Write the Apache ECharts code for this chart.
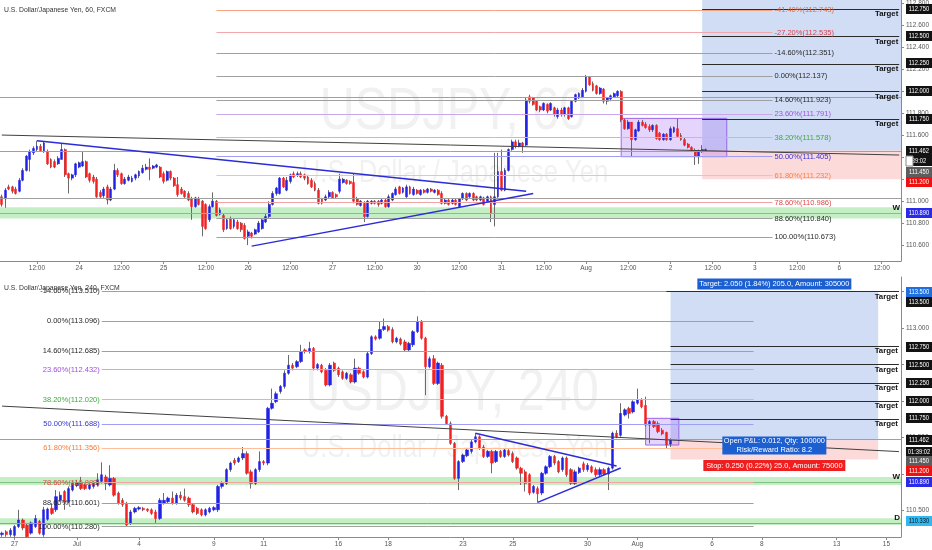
<!DOCTYPE html>
<html>
<head>
<meta charset="utf-8">
<script src="https://cdn.jsdelivr.net/npm/echarts/dist/echarts.min.js"></script>
<style>html,body{margin:0;padding:0;background:#fff}#main{width:932px;height:550px}</style>
</head>
<body>
<div id="main"></div>
<script>
// x axis labels (category index -> text)
const topTickPos = [10,22,34,46,58,70,82,94,106,118,130,142,154,166,178,190,202,214,226,238,250];
const topTickText = ['12:00','24','12:00','25','12:00','26','12:00','27','12:00','30','12:00','31','12:00','Aug','12:00','2','12:00','3','12:00','6','12:00'];
const bottomTickPos = [3,18,33,51,63,81,93,111,123,141,153,171,183,201,213];
const bottomTickText = ['27','Jul','4','9','11','16','18','23','25','30','Aug','6','8','13','15'];

// price ticks on the right axis
const topPriceTicks = [110.6,110.8,111.0,111.2,111.4,111.6,111.8,112.0,112.2,112.4,112.6,112.8];
const bottomPriceTicks = [110.5,111.0,111.5,112.0,112.5,113.0,113.5];

// hourly bars [open, close, low, high]
const topBars = [
[111.04,110.97,110.95,111.06],[111.02,111.10,110.94,111.12],[111.13,111.11,111.10,111.15],[111.13,111.09,111.07,111.14],
[111.11,111.07,111.06,111.13],[111.09,111.19,111.08,111.21],[111.19,111.28,111.18,111.30],[111.28,111.41,111.27,111.42],
[111.38,111.45,111.27,111.47],[111.44,111.48,111.42,111.50],[111.47,111.50,111.45,111.55],[111.50,111.46,111.45,111.52],
[111.45,111.53,111.44,111.54],[111.45,111.34,111.33,111.47],[111.38,111.31,111.30,111.39],[111.36,111.31,111.30,111.38],
[111.34,111.39,111.33,111.41],[111.38,111.47,111.38,111.53],[111.47,111.24,111.22,111.48],[111.25,111.21,111.07,111.26],
[111.21,111.24,111.19,111.25],[111.24,111.34,111.22,111.35],[111.31,111.35,111.30,111.36],[111.32,111.36,111.31,111.45],
[111.36,111.22,111.21,111.37],[111.25,111.19,111.17,111.26],[111.22,111.18,111.16,111.24],[111.20,111.04,111.03,111.22],
[111.08,111.04,111.03,111.10],[111.05,111.11,111.03,111.13],[111.13,111.01,110.97,111.15],[111.01,111.11,111.00,111.13],
[111.11,111.28,111.10,111.34],[111.28,111.24,111.22,111.30],[111.25,111.16,111.15,111.26],[111.16,111.20,111.15,111.22],
[111.19,111.22,111.18,111.24],[111.18,111.21,111.17,111.23],[111.21,111.24,111.19,111.25],[111.23,111.27,111.21,111.28],
[111.26,111.30,111.25,111.33],[111.29,111.31,111.28,111.34],[111.31,111.29,111.19,111.39],[111.30,111.32,111.29,111.33],
[111.31,111.33,111.30,111.34],[111.31,111.22,111.21,111.32],[111.25,111.18,111.16,111.27],[111.19,111.27,111.18,111.28],
[111.27,111.21,111.19,111.28],[111.21,111.14,111.13,111.22],[111.15,111.06,111.04,111.22],[111.11,111.07,111.06,111.13],
[111.09,111.04,111.03,111.10],[111.07,111.01,111.00,111.09],[111.02,110.95,110.83,111.04],[110.95,111.03,110.94,111.04],
[111.02,110.97,110.96,111.04],[111.00,110.77,110.68,111.01],[110.97,110.75,110.74,110.98],[110.83,110.95,110.81,110.97],
[110.95,111.00,110.94,111.08],[111.00,110.87,110.86,111.01],[110.88,110.92,110.87,110.94],[110.87,110.74,110.72,110.89],
[110.75,110.83,110.74,110.84],[110.84,110.75,110.74,110.86],[110.77,110.83,110.75,110.84],[110.81,110.75,110.74,110.83],
[110.80,110.74,110.72,110.81],[110.78,110.66,110.65,110.80],[110.68,110.72,110.60,110.74],[110.71,110.68,110.66,110.72],
[110.70,110.74,110.69,110.75],[110.72,110.80,110.71,110.82],[110.75,110.83,110.74,110.84],[110.81,110.86,110.80,110.89],
[110.86,110.97,110.84,111.00],[110.97,111.07,110.96,111.09],[111.07,111.12,111.05,111.13],[111.07,111.21,111.06,111.22],
[111.21,111.13,111.12,111.22],[111.10,111.19,111.09,111.22],[111.18,111.24,111.16,111.25],[111.25,111.22,111.21,111.27],
[111.24,111.25,111.22,111.27],[111.25,111.22,111.21,111.27],[111.24,111.21,111.19,111.25],[111.22,111.16,111.15,111.24],
[111.19,111.13,111.12,111.21],[111.16,111.10,111.09,111.18],[111.10,110.98,110.97,111.12],[111.02,110.98,110.97,111.03],
[111.01,111.04,111.00,111.06],[111.04,111.08,111.02,111.10],[111.08,111.03,111.02,111.09],[111.06,111.04,111.02,111.07],
[111.09,111.20,111.07,111.25],[111.17,111.20,111.16,111.21],[111.19,111.16,111.15,111.20],[111.18,111.16,111.15,111.19],
[111.17,111.00,110.98,111.25],[111.02,110.97,110.96,111.04],[110.96,111.00,110.95,111.01],[110.98,110.86,110.81,111.00],
[110.86,111.00,110.85,111.01],[110.98,111.00,110.97,111.01],[111.00,110.98,110.97,111.01],[111.00,110.97,110.95,111.01],
[110.98,111.01,110.97,111.02],[111.01,110.95,110.94,111.02],[110.95,111.04,110.94,111.06],[111.01,111.07,111.00,111.08],
[111.06,111.11,111.05,111.13],[111.13,111.07,111.06,111.14],[111.08,111.12,111.07,111.13],[111.04,111.13,111.03,111.15],
[111.13,111.07,111.06,111.14],[111.06,111.11,111.05,111.13],[111.10,111.07,111.06,111.11],[111.06,111.10,111.05,111.11],
[111.10,111.08,111.07,111.11],[111.08,111.11,111.07,111.12],[111.11,111.09,111.08,111.12],[111.08,111.10,111.07,111.11],
[111.10,111.06,111.05,111.11],[111.07,110.98,110.97,111.09],[110.98,111.01,110.97,111.02],[111.01,110.97,110.96,111.02],
[110.98,111.01,110.97,111.02],[111.01,110.97,110.96,111.02],[110.95,111.02,110.94,111.03],[111.02,111.07,111.01,111.08],
[111.07,111.01,111.00,111.08],[111.04,111.07,111.03,111.08],[111.07,111.01,111.00,111.08],[111.04,111.01,111.00,111.05],
[111.01,111.04,111.00,111.05],[111.03,110.97,110.96,111.04],[111.00,111.04,110.99,111.05],[111.04,110.89,110.81,111.05],
[110.97,111.04,110.77,111.44],[111.04,111.27,111.03,111.44],[111.27,111.10,111.09,111.47],[111.10,111.28,111.09,111.30],
[111.28,111.47,111.27,111.48],[111.47,111.54,111.46,111.56],[111.54,111.50,111.48,111.56],[111.50,111.53,111.49,111.56],
[111.53,111.50,111.44,111.54],[111.51,111.92,111.50,111.94],[111.95,111.91,111.89,111.97],[111.94,111.88,111.87,111.95],
[111.91,111.83,111.82,111.92],[111.86,111.83,111.81,111.87],[111.83,111.89,111.82,111.90],[111.88,111.82,111.80,111.89],
[111.83,111.89,111.82,111.90],[111.85,111.79,111.77,111.86],[111.77,111.83,111.75,111.85],[111.83,111.79,111.77,111.85],
[111.79,111.85,111.77,111.86],[111.85,111.75,111.74,111.86],[111.77,111.91,111.76,111.92],[111.91,111.97,111.90,111.98],
[111.94,111.98,111.93,111.99],[111.95,112.01,111.94,112.03],[112.00,112.13,111.99,112.15],[112.13,112.06,112.05,112.14],
[112.07,112.01,112.00,112.09],[112.05,111.98,111.97,112.06],[111.98,112.03,111.97,112.04],[112.02,111.91,111.89,112.03],
[111.91,111.94,111.88,111.95],[111.93,111.96,111.91,111.97],[111.95,111.98,111.94,111.99],[111.96,112.00,111.94,112.01],
[112.00,111.74,111.72,112.01],[111.74,111.66,111.65,111.75],[111.66,111.72,111.65,111.74],[111.72,111.56,111.41,111.72],
[111.56,111.65,111.55,111.66],[111.64,111.72,111.63,111.74],[111.72,111.69,111.68,111.74],[111.70,111.67,111.66,111.72],
[111.68,111.65,111.63,111.70],[111.65,111.69,111.63,111.70],[111.69,111.57,111.56,111.70],[111.62,111.56,111.55,111.63],
[111.56,111.61,111.55,111.62],[111.61,111.56,111.55,111.62],[111.56,111.66,111.55,111.68],[111.63,111.67,111.62,111.68],
[111.66,111.59,111.58,111.75],[111.60,111.56,111.55,111.62],[111.56,111.51,111.50,111.58],[111.52,111.49,111.48,111.53],
[111.49,111.46,111.45,111.50],[111.46,111.41,111.33,111.48],[111.41,111.45,111.34,111.47],[111.45,111.47,111.44,111.51],
[111.46,111.47,111.45,111.48]
];

// 4-hour bars [open, close, low, high]
const bottomBars = [
[110.17,110.19,110.14,110.21],[110.21,110.17,110.14,110.23],[110.17,110.23,110.14,110.26],[110.16,110.28,110.13,110.30],
[110.28,110.37,110.26,110.51],[110.37,110.26,110.23,110.39],[110.30,110.14,110.13,110.33],[110.19,110.33,110.17,110.35],
[110.28,110.39,110.26,110.44],[110.35,110.19,110.17,110.37],[110.17,110.51,110.14,110.55],[110.38,110.52,110.36,110.54],
[110.53,110.46,110.44,110.60],[110.51,110.69,110.48,110.78],[110.64,110.71,110.62,110.76],[110.76,110.62,110.51,110.78],
[110.62,110.80,110.60,110.83],[110.78,110.87,110.76,110.90],[110.84,110.88,110.82,110.92],[110.87,110.80,110.78,110.96],
[110.85,110.80,110.78,110.87],[110.80,110.85,110.78,110.87],[110.83,110.87,110.80,110.90],[110.85,110.92,110.83,111.01],
[110.90,110.99,110.87,111.16],[110.96,110.87,110.78,110.99],[110.85,110.94,110.83,111.12],[110.94,110.71,110.69,110.96],
[110.74,110.60,110.58,110.76],[110.64,110.58,110.55,110.67],[110.60,110.30,110.28,110.62],[110.33,110.48,110.30,110.51],
[110.48,110.53,110.46,110.55],[110.52,110.54,110.50,110.56],[110.53,110.51,110.49,110.55],[110.52,110.50,110.48,110.53],
[110.51,110.46,110.44,110.53],[110.48,110.39,110.33,110.51],[110.39,110.64,110.37,110.67],[110.60,110.64,110.58,110.74],
[110.62,110.67,110.60,110.69],[110.67,110.60,110.58,110.76],[110.60,110.71,110.58,110.74],[110.71,110.67,110.64,110.76],
[110.69,110.64,110.62,110.80],[110.67,110.58,110.55,110.69],[110.58,110.48,110.46,110.60],[110.53,110.46,110.44,110.55],
[110.51,110.44,110.42,110.53],[110.44,110.51,110.42,110.53],[110.48,110.53,110.46,110.55],[110.51,110.54,110.49,110.56],
[110.51,110.83,110.48,110.85],[110.83,110.87,110.80,110.90],[110.87,111.06,110.85,111.08],[111.06,111.15,111.03,111.17],
[111.19,111.15,111.12,111.22],[111.17,111.22,111.15,111.24],[111.22,111.28,111.19,111.37],[111.28,111.01,110.99,111.31],
[111.03,110.87,110.80,111.06],[110.87,111.06,110.85,111.08],[111.06,111.17,111.03,111.31],[111.17,111.15,111.12,111.19],
[111.15,111.90,111.12,111.92],[111.90,111.97,111.88,112.17],[111.99,112.10,111.97,112.13],[112.13,112.20,112.10,112.22],
[112.20,112.38,112.17,112.42],[112.38,112.49,112.36,112.63],[112.49,112.45,112.42,112.52],[112.47,112.54,112.45,112.56],
[112.54,112.68,112.52,112.77],[112.70,112.68,112.65,112.72],[112.68,112.72,112.65,112.81],[112.72,112.45,112.42,112.74],
[112.45,112.50,112.42,112.52],[112.49,112.40,112.38,112.51],[112.42,112.22,112.20,112.45],[112.22,112.49,112.20,112.52],
[112.52,112.42,112.40,112.54],[112.45,112.36,112.33,112.47],[112.40,112.31,112.29,112.42],[112.31,112.38,112.29,112.40],
[112.36,112.26,112.24,112.38],[112.26,112.45,112.24,112.58],[112.45,112.38,112.36,112.47],[112.40,112.33,112.31,112.42],
[112.33,112.65,112.31,112.68],[112.65,112.88,112.63,112.90],[112.88,112.85,112.83,112.90],[112.86,112.98,112.84,113.09],
[112.98,113.02,112.96,113.13],[113.02,112.97,112.95,113.04],[112.98,112.81,112.79,113.01],[112.81,112.86,112.79,112.88],
[112.85,112.78,112.76,112.87],[112.81,112.70,112.68,112.84],[112.70,112.79,112.68,112.81],[112.77,112.95,112.74,112.97],
[112.95,113.09,112.93,113.16],[113.09,112.86,112.84,113.11],[112.86,112.47,112.08,112.88],[112.47,112.58,112.45,112.61],
[112.58,112.24,112.22,112.63],[112.24,112.52,112.22,112.54],[112.49,111.79,111.76,112.52],[111.79,111.69,111.67,111.81],
[111.69,111.42,111.40,111.72],[111.42,110.94,110.92,111.44],[110.94,111.17,110.78,111.19],[111.17,111.26,111.15,111.28],
[111.25,111.33,111.23,111.35],[111.31,111.44,111.28,111.47],[111.44,111.51,111.42,111.56],[111.51,111.35,111.33,111.53],
[111.37,111.24,111.22,111.40],[111.24,111.31,111.22,111.33],[111.31,111.15,111.01,111.33],[111.17,111.31,111.15,111.33],
[111.31,111.24,111.22,111.33],[111.24,111.33,111.22,111.35],[111.32,111.26,111.24,111.34],[111.28,111.17,111.15,111.31],
[111.22,111.08,111.06,111.24],[111.08,111.01,110.85,111.10],[111.03,110.87,110.76,111.06],[110.99,110.74,110.71,111.01],
[110.75,110.83,110.73,110.85],[110.80,110.73,110.61,110.83],[110.74,111.01,110.71,111.03],[111.01,111.10,110.99,111.12],
[111.10,111.24,111.08,111.26],[111.24,111.15,111.12,111.26],[111.17,111.03,111.01,111.19],[111.06,111.22,111.03,111.24],
[111.22,110.99,110.96,111.24],[111.06,110.87,110.85,111.08],[110.87,111.03,110.85,111.06],[111.02,111.08,111.00,111.10],
[111.14,111.06,111.03,111.17],[111.06,111.12,111.03,111.15],[111.10,111.03,111.01,111.12],[111.06,110.99,110.96,111.09],
[110.99,111.06,110.96,111.09],[111.06,111.00,110.98,111.08],[111.00,111.08,110.78,111.10],[111.08,111.56,111.06,111.58],
[111.56,111.51,111.49,111.60],[111.53,111.83,111.51,111.97],[111.81,111.88,111.79,111.90],[111.90,111.83,111.76,111.92],
[111.85,111.99,111.83,112.01],[111.97,112.02,111.95,112.17],[112.01,111.92,111.90,112.04],[111.94,111.67,111.65,112.06],
[111.67,111.72,111.42,111.74],[111.72,111.65,111.63,111.74],[111.69,111.58,111.56,111.72],[111.60,111.55,111.53,111.63],
[111.57,111.40,111.35,111.58],[111.41,111.47,111.37,111.49]
];

// fibonacci levels
const topFibLevels = ['-41.40%','-27.20%','-14.60%','0.00%','14.60%','23.60%','38.20%','50.00%','61.80%','78.60%','88.60%','100.00%'];
const topFibPrices = [112.743,112.535,112.351,112.137,111.923,111.791,111.578,111.405,111.232,110.986,110.840,110.673];
const bottomFibLevels = ['-14.60%','0.00%','14.60%','23.60%','38.20%','50.00%','61.80%','78.60%','88.60%','100.00%'];
const bottomFibPrices = [113.510,113.096,112.685,112.432,112.020,111.688,111.356,110.883,110.601,110.280];

// position tool and horizontal levels
const entryPrice = 111.462;
const stopPrice = 111.2;
const targetPrice = 113.5;
const topTargets = [112.75,112.5,112.25,112.0,111.75];
const bottomTargets = [113.5,112.75,112.5,112.25,112.0,111.75];
const topLevels = [111.95,111.455,111.03];
const bottomLevels = [111.475];
const weeklyLevel = 110.89;
const dailyLevel = 110.33;

// badges on the price scale [text, price, background, text colour]
const topBadges = [
  ['112.750',112.75,'#131313','#fff'],['112.500',112.504,'#131313','#fff'],['112.250',112.255,'#131313','#fff'],
  ['112.000',112.006,'#131313','#fff'],['111.750',111.751,'#131313','#fff'],['111.462',111.459,'#131313','#fff'],
  ['39:02',111.363,'#131313','#fff'],['111.450',111.268,'#5d5d5d','#fff'],['111.200',111.177,'#f01010','#fff'],
  ['110.890',110.895,'#2a2ae8','#fff']
];
const bottomBadges = [
  ['113.500',113.493,'#1f6fe0','#fff'],['113.500',113.352,'#131313','#fff'],['112.750',112.744,'#131313','#fff'],
  ['112.500',112.493,'#131313','#fff'],['112.250',112.251,'#131313','#fff'],['112.000',112.004,'#131313','#fff'],
  ['111.750',111.763,'#131313','#fff'],['111.462',111.466,'#131313','#fff'],['01:39:02',111.306,'#131313','#fff'],
  ['111.450',111.178,'#5d5d5d','#fff'],['111.200',111.037,'#f01010','#fff'],['110.890',110.890,'#2a2ae8','#fff'],
  ['110.330',110.360,'#2fb8f2','#111']
];

const chart = echarts.init(document.getElementById('main'));

const FONT = 'Liberation Sans';
const FIB_STYLE = {
  '-41.40%': ['#f6a380', '#ec6a36'],
  '-27.20%': ['#f3a6ac', '#d8434f'],
  '23.60%': ['#caa6ea', '#a050dc'],
  '38.20%': ['#9cd89c', '#3fa83f'],
  '50.00%': ['#9e9ef2', '#3535d0'],
  '61.80%': ['#ffbd98', '#ff7b33'],
  '78.60%': ['#f2a4a4', '#e04848']
};
const FIB_GRAY = ['#a0a0a0', '#2a2a2a'];

function makeCats(n, pos, text) {
  const cats = new Array(n).fill('');
  pos.forEach((p, k) => { cats[p] = text[k]; });
  return cats;
}
const topCats = makeCats(256, topTickPos, topTickText);
const bottomCats = makeCats(217, bottomTickPos, bottomTickText);

function fibLines(levels, prices, from, to, side) {
  return levels.map((lvl, k) => {
    const st = FIB_STYLE[lvl] || FIB_GRAY;
    const p = prices[k];
    return [{
      coord: [from, p],
      lineStyle: { color: st[0], width: 1, type: 'solid' },
      label: { show: true, position: side, formatter: lvl + '(' + p.toFixed(3) + ')', color: st[1],
        fontSize: 7.5, fontFamily: FONT, distance: 2, padding: [0, 0, 8, 0] }
    }, { coord: [to, p] }];
  });
}

function targetLines(levels, from, to) {
  return levels.map(v => [{
    coord: [from, v],
    lineStyle: { color: '#2b2b2b', width: 1, type: 'solid' },
    label: { show: true, position: 'insideEndBottom', formatter: 'Target', color: '#111',
      fontWeight: 'bold', fontSize: 7.8, fontFamily: FONT, distance: 1 }
  }, { coord: [to, v] }]);
}

function hLine(v, color, text) {
  const item = { yAxis: v, lineStyle: { color: color, width: 1, type: 'solid' }, label: { show: false } };
  if (text) {
    item.label = { show: true, position: 'insideEndTop', formatter: text, color: '#111',
      fontWeight: 'bold', fontSize: 8, fontFamily: FONT, distance: 1 };
  }
  return item;
}

function seg(a, b, color, width) {
  return [{ coord: a, lineStyle: { color: color, width: width, type: 'solid' } }, { coord: b }];
}

function overlay(idx, z, extra) {
  return Object.assign({ type: 'line', xAxisIndex: idx, yAxisIndex: idx, data: [], z: z, silent: true, symbol: 'none' }, extra);
}

function markLine(data) {
  return { silent: true, symbol: ['none', 'none'], animation: false, label: { show: false },
    lineStyle: { type: 'solid' }, emphasis: { disabled: true }, data: data };
}

function markArea(data) {
  return { silent: true, animation: false, label: { show: false }, emphasis: { disabled: true }, data: data };
}

function area(a, b, fill, border) {
  return [{ coord: a, itemStyle: { color: fill, borderColor: border || 'transparent', borderWidth: border ? 1 : 0 } }, { coord: b }];
}

function band(lo, hi, fill) {
  return [{ yAxis: lo, itemStyle: { color: fill } }, { yAxis: hi }];
}

function candles(idx, bars, w) {
  return [{
    type: 'candlestick', xAxisIndex: idx, yAxisIndex: idx, data: bars, barWidth: 1, z: 3, silent: true,
    itemStyle: { color: '#6a6a6a', color0: '#6a6a6a', borderColor: '#6a6a6a', borderColor0: '#6a6a6a', borderWidth: 1 }
  }, {
    type: 'candlestick', xAxisIndex: idx, yAxisIndex: idx, barWidth: w, z: 4, silent: true,
    data: bars.map(b => [b[0], b[1], Math.min(b[0], b[1]), Math.max(b[0], b[1])]),
    itemStyle: { color: '#2222e4', color0: '#f22222', borderColor: '#2222e4', borderColor0: '#f22222', borderWidth: 0.5 }
  }];
}

function xAxis(idx, cats) {
  const show = (i, v) => v !== '';
  return {
    type: 'category', gridIndex: idx, data: cats, boundaryGap: true,
    axisLine: { lineStyle: { color: '#8a8a8a' } },
    axisTick: { show: true, interval: show, alignWithLabel: true, length: 3, lineStyle: { color: '#8a8a8a' } },
    axisLabel: { interval: show, color: '#555', fontSize: 6.5, fontFamily: FONT, margin: 4 },
    splitLine: { show: false }
  };
}

function yAxis(idx, min, max, ticks) {
  return {
    type: 'value', gridIndex: idx, position: 'right', min: min, max: max,
    axisLine: { show: true, lineStyle: { color: '#8a8a8a' } },
    axisTick: { show: true, length: 3, customValues: ticks, lineStyle: { color: '#8a8a8a' } },
    axisLabel: { customValues: ticks, formatter: v => v.toFixed(3), color: '#555', fontSize: 6.5, fontFamily: FONT, margin: 5 },
    splitLine: { show: false }
  };
}

const blueFill = 'rgba(40,100,210,0.22)';
const redFill = 'rgba(245,70,70,0.2)';
const purpleFill = 'rgba(160,100,240,0.28)';
const greenFill = 'rgba(70,205,70,0.32)';

function infoBox(coord, size, color, text) {
  return { coord: coord, symbol: 'rect', symbolSize: size, itemStyle: { color: color },
    label: { show: true, position: 'inside', formatter: text, color: '#fff', fontSize: 7.4, lineHeight: 8.5, fontFamily: FONT } };
}

const option = {
  animation: false,
  textStyle: { fontFamily: FONT },
  grid: [
    { left: 0, right: 27, top: 0, height: 261 },
    { left: 0, right: 27, top: 277, height: 260 }
  ],
  xAxis: [xAxis(0, topCats), xAxis(1, bottomCats)],
  yAxis: [yAxis(0, 110.455, 112.832, topPriceTicks), yAxis(1, 110.137, 113.699, bottomPriceTicks)],
  series: [
    // ---- 60 minute pane ----
    overlay(0, 1, { markArea: markArea([
      band(110.843, 110.944, greenFill),
      area([199, entryPrice], [Infinity, targetPrice], blueFill),
      area([199, entryPrice], [Infinity, stopPrice], redFill),
      area([176, 111.754], [206, 111.405], purpleFill, '#9a66e8')
    ]) }),
    overlay(0, 2, { markLine: markLine([].concat(
      topLevels.map(v => hLine(v, '#a0a0a0')),
      [hLine(weeklyLevel, '#86c086', 'W')],
      fibLines(topFibLevels, topFibPrices, 61, 219, 'end'),
      targetLines(topTargets, 199, 255)
    )) }),
    ...candles(0, topBars, 2.4),
    overlay(0, 5, { markLine: markLine([
      seg([0, 111.602], [255, 111.420], '#404040', 1),
      seg([10, 111.55], [149, 111.09], '#2b2bd8', 1.4),
      seg([71, 110.59], [151, 111.07], '#2b2bd8', 1.4)
    ]) }),

    // ---- 240 minute pane ----
    overlay(1, 1, { markArea: markArea([
      band(110.85, 110.96, greenFill),
      band(110.30, 110.395, greenFill),
      area([161, entryPrice], [211, targetPrice], blueFill),
      area([161, entryPrice], [211, stopPrice], redFill),
      area([155, 111.763], [163, 111.397], purpleFill, '#9a66e8')
    ]) }),
    overlay(1, 2, { markLine: markLine([].concat(
      bottomLevels.map(v => hLine(v, '#a0a0a0')),
      [hLine(weeklyLevel, '#86c086', 'W'), hLine(dailyLevel, '#58c0a0', 'D')],
      fibLines(bottomFibLevels, bottomFibPrices, 24, 181, 'start'),
      targetLines(bottomTargets.slice(1), 161, 216),
      targetLines([bottomTargets[0]], 160, 216)
    )) }),
    ...candles(1, bottomBars, 2.9),
    overlay(1, 5, { markLine: markLine([
      seg([0, 111.930], [216, 111.307], '#404040', 1),
      seg([114, 111.558], [148, 111.11], '#2b2bd8', 1.4),
      seg([129, 110.612], [149, 111.082], '#2b2bd8', 1.4)
    ]) }),
    overlay(1, 6, { markPoint: { silent: true, animation: false, data: [
      infoBox([186, 113.603], [154, 11], '#1c5fd0', 'Target: 2.050 (1.84%) 205.0, Amount: 305000'),
      infoBox([186, 111.39], [104, 18], '#1c5fd0', 'Open P&L: 0.012, Qty: 100000\nRisk/Reward Ratio: 8.2'),
      infoBox([186, 111.116], [142, 11], '#f01e1e', 'Stop: 0.250 (0.22%) 25.0, Amount: 75000')
    ] } })
  ]
};

chart.setOption(option);

// watermarks, headers and price badges
function badgeEls(list, axis) {
  return list.map(b => {
    const y = Math.round(chart.convertToPixel({ yAxisIndex: axis }, b[1]));
    return {
      type: 'group', x: 906, y: y - 5, children: [
        { type: 'rect', z: 100, shape: { x: 0, y: 0, width: 26, height: 10 }, style: { fill: b[2] } },
        { type: 'text', z: 101, x: 13, y: 5, scaleX: 0.82,
          style: { text: b[0], fill: b[3], fontSize: 7, fontFamily: FONT, align: 'center', verticalAlign: 'middle' } }
      ]
    };
  });
}

function mark(text, x, y, size, sx) {
  return { type: 'text', x: x, y: y, z: 0, scaleX: sx, silent: true,
    style: { text: text, fill: '#f1f1f1', fontSize: size, fontFamily: FONT, align: 'center', verticalAlign: 'middle' } };
}

function header(text, y) {
  return { type: 'text', x: 4, y: y, z: 50, silent: true,
    style: { text: text, fill: '#333', fontSize: 6.8, fontFamily: FONT, verticalAlign: 'middle' } };
}

const clockBox = chart.convertToPixel({ yAxisIndex: 0 }, 111.363);

chart.setOption({
  graphic: [
    mark('USDJPY, 60', 453, 112, 60, 0.81),
    mark('U.S. Dollar / Japanese Yen', 455, 173, 32, 0.8),
    mark('USDJPY, 240', 452, 393, 60, 0.81),
    mark('U.S. Dollar / Japanese Yen', 455, 448, 32, 0.8),
    header('U.S. Dollar/Japanese Yen, 60, FXCM', 10),
    header('U.S. Dollar/Japanese Yen, 240, FXCM', 288)
  ].concat(badgeEls(topBadges, 0), badgeEls(bottomBadges, 1), [
    { type: 'rect', z: 102, shape: { x: 906, y: Math.round(clockBox) - 5, width: 7, height: 10 },
      style: { fill: '#fff', stroke: '#888', lineWidth: 1 } }
  ])
});

window.addEventListener('resize', () => chart.resize());
</script>
</body>
</html>
